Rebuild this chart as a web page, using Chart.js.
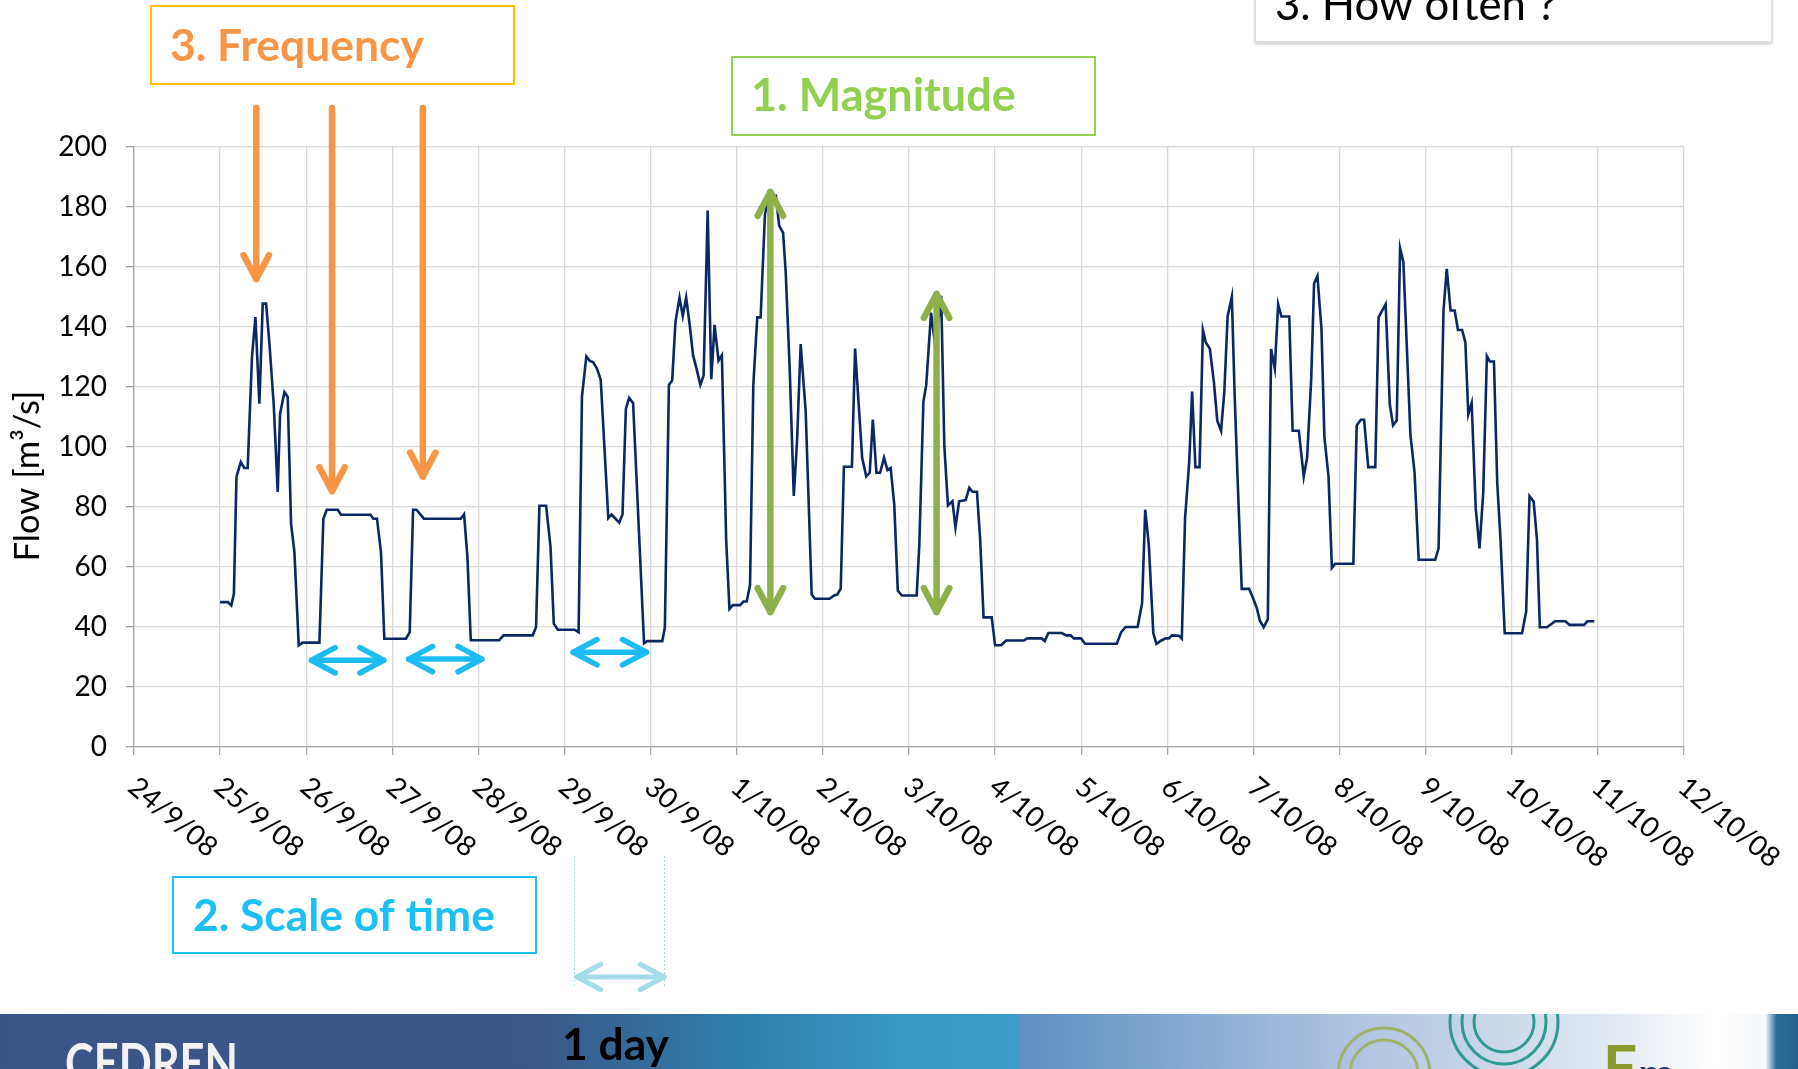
<!DOCTYPE html>
<html>
<head>
<meta charset="utf-8">
<script src="https://cdn.jsdelivr.net/npm/chart.js@4"></script>
<style>
    html, body { margin: 0; padding: 0; background: #fff; }
    #wrap { position: relative; width: 1798px; height: 1069px; overflow: hidden; }
</style>
</head>
<body>
<div id="wrap"><canvas id="flow_chart" width="1798" height="1069"></canvas></div>
<script>
const dateLabels = [
    '24/9/08', '25/9/08', '26/9/08', '27/9/08', '28/9/08', '29/9/08', '30/9/08',
    '1/10/08', '2/10/08', '3/10/08', '4/10/08', '5/10/08', '6/10/08', '7/10/08',
    '8/10/08', '9/10/08', '10/10/08', '11/10/08', '12/10/08'
];

// time of each reading, in days after 24/9/08 00:00
const days = [
    1.00, 1.09, 1.13, 1.16, 1.19, 1.24, 1.28, 1.32, 1.37, 1.41,
    1.456, 1.495, 1.534, 1.573, 1.623, 1.669, 1.696, 1.747, 1.785, 1.824,
    1.863, 1.913, 1.959, 2.153, 2.199, 2.238, 2.366, 2.404, 2.745, 2.78,
    2.822, 2.868, 2.907, 3.159, 3.202, 3.241, 3.28, 3.366, 3.794, 3.833,
    3.872, 3.911, 4.241, 4.292, 4.63, 4.669, 4.708, 4.786, 4.837, 4.875,
    4.922, 5.117, 5.163, 5.202, 5.253, 5.292, 5.331, 5.377, 5.42, 5.508,
    5.546, 5.635, 5.673, 5.712, 5.75, 5.796, 5.923, 5.962, 6.135, 6.165,
    6.212, 6.25, 6.288, 6.335, 6.373, 6.412, 6.454, 6.492, 6.531, 6.577,
    6.615, 6.662, 6.704, 6.742, 6.788, 6.827, 6.877, 6.915, 6.954, 7.038,
    7.077, 7.115, 7.154, 7.192, 7.238, 7.277, 7.327, 7.365, 7.423, 7.454,
    7.492, 7.538, 7.569, 7.615, 7.662, 7.70, 7.742, 7.80, 7.87, 7.907,
    8.078, 8.13, 8.166, 8.207, 8.244, 8.337, 8.374, 8.456, 8.503, 8.544,
    8.58, 8.622, 8.664, 8.71, 8.75, 8.787, 8.829, 8.87, 8.917, 9.089,
    9.12, 9.167, 9.2, 9.256, 9.307, 9.374, 9.41, 9.452, 9.504, 9.54,
    9.582, 9.658, 9.7, 9.737, 9.789, 9.826, 9.866, 9.96, 10.0, 10.07,
    10.127, 10.333, 10.375, 10.54, 10.577, 10.619, 10.774, 10.826, 10.878, 10.914,
    10.997, 11.045, 11.413, 11.464, 11.516, 11.655, 11.707, 11.743, 11.785, 11.837,
    11.873, 11.93, 11.982, 12.018, 12.054, 12.134, 12.168, 12.206, 12.254, 12.288,
    12.326, 12.374, 12.413, 12.446, 12.494, 12.542, 12.58, 12.624, 12.662, 12.7,
    12.749, 12.782, 12.816, 12.864, 12.95, 12.99, 13.037, 13.075, 13.119, 13.167,
    13.205, 13.248, 13.287, 13.325, 13.416, 13.455, 13.527, 13.584, 13.623, 13.671,
    13.704, 13.743, 13.79, 13.824, 13.872, 13.911, 13.949, 14.16, 14.199, 14.247,
    14.285, 14.333, 14.415, 14.453, 14.535, 14.583, 14.621, 14.664, 14.703, 14.741,
    14.823, 14.871, 14.919, 14.957, 15.111, 15.15, 15.207, 15.245, 15.289, 15.337,
    15.375, 15.423, 15.461, 15.495, 15.534, 15.581, 15.625, 15.668, 15.711, 15.745,
    15.793, 15.831, 15.87, 15.918, 16.119, 16.167, 16.206, 16.254, 16.292, 16.326,
    16.408, 16.503, 16.623, 16.671, 16.839, 16.878, 16.959
];

// flow in m3/s
const flow = [
    48.3, 48.3, 47.2, 51.1, 90, 95, 93, 93, 130, 143.3,
    114.4, 147.8, 147.8, 134.4, 114, 85, 111, 118.3, 116.7, 74.4,
    65, 33.9, 34.8, 34.8, 76.1, 79.1, 79.1, 77.4, 77.4, 76.1,
    76.1, 65, 36.1, 36.1, 38.3, 79.1, 79.1, 76.1, 76.1, 77.6,
    63.3, 35.6, 35.6, 37.2, 37.2, 40, 80.4, 80.4, 66.7, 41.1,
    39.1, 39.1, 38.3, 116.7, 130.2, 128.7, 128.3, 126.1, 122.4, 76.3,
    77.5, 74.8, 77.5, 112.7, 116.4, 114.6, 34.6, 35.3, 35.3, 39.9,
    120.7, 122.2, 141.7, 149.8, 143.6, 149.8, 140.5, 130.6, 126.3, 120.7,
    123.8, 178.8, 122.6, 140.7, 128.8, 130.6, 68.9, 46, 47.3, 47.3,
    48.5, 48.5, 54, 120.7, 143.2, 143.2, 177.5, 182.5, 183.7, 183.7,
    173.8, 171.4, 157.8, 125.7, 83.7, 102, 134.3, 112, 50.8, 49.4,
    49.4, 50.5, 50.8, 52.8, 93.4, 93.4, 132.8, 96.4, 90.2, 91.4,
    109.1, 91.4, 91.4, 96.4, 92.3, 93, 80.8, 52.1, 50.5, 50.5,
    67.4, 115.1, 120.6, 144.8, 133.2, 150.4, 100.6, 80.5, 81.9, 73.2,
    81.9, 82.3, 86.4, 85.1, 85.1, 69.4, 43.2, 43.2, 33.9, 33.9,
    35.5, 35.5, 36.2, 36.2, 35.3, 38, 38, 37.2, 37.2, 36.2,
    36.2, 34.4, 34.4, 38.3, 40, 40, 48, 79.1, 67.4, 38,
    34.4, 35.5, 36.2, 36.2, 37.2, 37.1, 36.1, 76.3, 95, 118.5,
    93.3, 93.3, 139, 134.9, 132.7, 121.3, 108.8, 105.4, 118.5, 143.5,
    150.1, 117.1, 89.4, 52.7, 52.7, 50, 46.5, 42.1, 39.9, 42.6,
    132.7, 126.2, 147.6, 143.5, 143.5, 105.4, 105.4, 90.1, 96.4, 122.7,
    154.5, 157, 139.3, 103.3, 90.1, 59.7, 61.1, 61.1, 107.2, 109.1,
    109.1, 93.3, 93.3, 143.2, 147.6, 114.4, 107.2, 108.8, 166.3, 161.7,
    104, 91.5, 62.4, 62.4, 62.4, 66.2, 145.5, 159.4, 145.5, 145.5,
    139, 139, 134.9, 110.9, 114.7, 79.8, 66.2, 84.6, 130.3, 128.5,
    128.5, 88.1, 68.7, 37.9, 37.9, 45.1, 83.6, 81.8, 69.4, 39.9,
    39.9, 41.9, 41.9, 40.7, 40.7, 41.9, 41.9
];

// annotation arrows, in chart units (day, m3/s)
const frequencyArrows = [
    { day: 1.42, from: 213, to: 156 },
    { day: 2.30, from: 213, to: 85.3 },
    { day: 3.354, from: 213, to: 90.2 }
];
const magnitudeArrows = [
    { day: 7.39, low: 45, high: 185 },
    { day: 9.32, low: 45, high: 151 }
];
const durationArrows = [
    { flow: 28.9, from: 2.06, to: 2.90 },
    { flow: 29.3, from: 3.19, to: 4.04 },
    { flow: 31.6, from: 5.10, to: 5.95 }
];

const FONT = 'Lato, "Open Sans", sans-serif';
Chart.defaults.font.family = FONT;

function fitFont(c, text, weight, width) {
    c.font = weight + ' 100px ' + FONT;
    const w = c.measureText(text).width;
    return weight + ' ' + (100 * width / w).toFixed(1) + 'px ' + FONT;
}

function head(c, x, y, ang, len) {
    const a = 28 * Math.PI / 180;
    c.beginPath();
    c.moveTo(x - len * Math.cos(ang - a), y - len * Math.sin(ang - a));
    c.lineTo(x, y);
    c.lineTo(x - len * Math.cos(ang + a), y - len * Math.sin(ang + a));
    c.stroke();
}

function arrow(c, x1, y1, x2, y2, both, color, width) {
    c.save();
    c.strokeStyle = color;
    c.lineWidth = width;
    c.lineCap = 'round';
    c.lineJoin = 'round';
    c.beginPath();
    c.moveTo(x1, y1);
    c.lineTo(x2, y2);
    c.stroke();
    const ang = Math.atan2(y2 - y1, x2 - x1);
    head(c, x2, y2, ang, 27);
    if (both) head(c, x1, y1, ang + Math.PI, 27);
    c.restore();
}

function textBox(c, r, border, text, color, weight, tx, ty, tw) {
    c.save();
    c.strokeStyle = border;
    c.lineWidth = 2;
    c.strokeRect(r[0], r[1], r[2], r[3]);
    c.font = fitFont(c, text, weight, tw);
    c.fillStyle = color;
    c.textAlign = 'left';
    c.textBaseline = 'alphabetic';
    c.fillText(text, tx, ty);
    c.restore();
}

function drawBanner(c) {
    const g = c.createLinearGradient(0, 0, 1798, 0);
    g.addColorStop(0, '#3a5487');
    g.addColorStop(0.30, '#3b5788');
    g.addColorStop(0.40, '#2f7ba8');
    g.addColorStop(0.50, '#3799c4');
    g.addColorStop(0.566, '#3c9dc8');
    g.addColorStop(0.568, '#5e90c3');
    g.addColorStop(0.74, '#a9c0de');
    g.addColorStop(0.89, '#dfe7f2');
    g.addColorStop(0.955, '#ffffff');
    g.addColorStop(0.982, '#f4f7fb');
    g.addColorStop(0.988, '#2a6e98');
    g.addColorStop(1, '#255f8c');
    c.fillStyle = g;
    c.fillRect(0, 1014, 1798, 55);

    c.save();
    c.beginPath();
    c.rect(0, 1014, 1798, 55);
    c.clip();
    c.fillStyle = '#f2f2f2';
    c.font = fitFont(c, 'CEDREN', 'bold', 173);
    c.save();
    c.translate(65, 1082);
    c.scale(1, 1.25);
    c.fillText('CEDREN', 0, 0);
    c.restore();
    c.lineWidth = 3;
    c.strokeStyle = '#9fb36a';
    [46, 34].forEach(r => { c.beginPath(); c.arc(1384, 1074, r, 0, Math.PI * 2); c.stroke(); });
    c.strokeStyle = '#2e9a96';
    [54, 42, 30].forEach(r => { c.beginPath(); c.arc(1504, 1022, r, 0, Math.PI * 2); c.stroke(); });
    c.fillStyle = '#8b9a2e';
    c.font = 'bold 60px ' + FONT;
    c.fillText('F', 1603, 1088);
    c.fillStyle = '#1f3f7a';
    c.font = 'bold 44px ' + FONT;
    c.fillText('m', 1638, 1090);
    c.restore();

    c.save();
    c.fillStyle = '#000';
    c.font = fitFont(c, '1 day', 'bold', 107);
    c.fillText('1 day', 562, 1060);
    c.restore();
}

const overlay = {
    id: 'overlay',
    afterDraw(chart) {
        const c = chart.ctx;
        const xs = chart.scales.x;
        const ys = chart.scales.y;

        // date labels, turned clockwise under the axis
        c.save();
        c.font = '28px ' + FONT;
        c.fillStyle = '#000';
        c.textAlign = 'left';
        c.textBaseline = 'middle';
        dateLabels.forEach((lab, i) => {
            c.save();
            c.translate(xs.getPixelForValue(i) - 2, ys.bottom + 36);
            c.rotate(40 * Math.PI / 180);
            c.fillText(lab, 0, 0);
            c.restore();
        });
        c.restore();

        // y title
        c.save();
        c.translate(28, 476);
        c.rotate(-Math.PI / 2);
        c.font = fitFont(c, 'Flow [m³/s]', 'normal', 171);
        c.fillStyle = '#000';
        c.textAlign = 'center';
        c.textBaseline = 'middle';
        c.fillText('Flow [m³/s]', 0, 0);
        c.restore();

        // text boxes
        textBox(c, [151, 6, 363, 78], '#ffc000', '3. Frequency', '#f79646', 'bold', 170, 61, 254);
        textBox(c, [732, 57, 363, 78], '#92d050', '1. Magnitude', '#92d050', 'bold', 751, 111, 265);
        textBox(c, [173, 877, 363, 76], '#1cc0f4', '2. Scale of time', '#1cc0f4', 'bold', 193, 931, 302);
        c.save();
        c.shadowColor = 'rgba(0,0,0,0.25)';
        c.shadowOffsetY = 2;
        c.shadowBlur = 3;
        c.fillStyle = '#fff';
        c.fillRect(1255, -10, 517, 52);
        c.restore();
        textBox(c, [1255, -10, 517, 52], '#e0e0e0', '3. How often ?', '#000', 'normal', 1275, 20, 282);

        // arrows
        frequencyArrows.forEach(a => {
            const px = xs.getPixelForValue(a.day);
            arrow(c, px, ys.getPixelForValue(a.from), px, ys.getPixelForValue(a.to), false, '#f79646', 6.5);
        });
        magnitudeArrows.forEach(a => {
            const px = xs.getPixelForValue(a.day);
            arrow(c, px, ys.getPixelForValue(a.low), px, ys.getPixelForValue(a.high), true, '#8db04a', 6.5);
        });
        durationArrows.forEach(a => {
            const py = ys.getPixelForValue(a.flow);
            arrow(c, xs.getPixelForValue(a.from), py, xs.getPixelForValue(a.to), py, true, '#1cbcf3', 5.5);
        });

        // one day scale under the chart
        c.save();
        c.strokeStyle = '#a6dcea';
        c.lineWidth = 1;
        c.setLineDash([2, 2]);
        [574, 664].forEach(px => {
            c.beginPath();
            c.moveTo(px + 0.5, 856);
            c.lineTo(px + 0.5, 988);
            c.stroke();
        });
        c.restore();
        arrow(c, 577, 977, 664, 977, true, '#a6dcea', 5);

        drawBanner(c);
    }
};

const ctx = document.getElementById('flow_chart').getContext('2d');
const flowChart = new Chart(ctx, {
    type: 'line',
    data: {
        datasets: [{
            label: 'Flow',
            data: days.map((d, i) => ({ x: d, y: flow[i] })),
            borderColor: '#0b2864',
            borderWidth: 2.6,
            pointRadius: 0,
            fill: false,
            tension: 0
        }]
    },
    options: {
        responsive: false,
        animation: false,
        layout: { padding: { left: 0, top: 147, right: 114, bottom: 314 } },
        plugins: {
            legend: { display: false },
            tooltip: { enabled: false }
        },
        scales: {
            x: {
                type: 'linear',
                min: 0,
                max: 18,
                ticks: { display: false, stepSize: 1 },
                grid: { color: '#d9d9d9', lineWidth: 1.3, tickLength: 8, tickColor: '#a6a6a6' },
                border: { color: '#a6a6a6', width: 1.3 }
            },
            y: {
                min: 0,
                max: 200,
                ticks: { stepSize: 20, color: '#000', font: { size: 28 }, padding: 19 },
                grid: { color: '#d9d9d9', lineWidth: 1.3, tickLength: 8, tickColor: '#a6a6a6' },
                border: { color: '#a6a6a6', width: 1.3 },
                afterFit: s => { s.width = 134; }
            }
        }
    },
    plugins: [overlay]
});
</script>
</body>
</html>
